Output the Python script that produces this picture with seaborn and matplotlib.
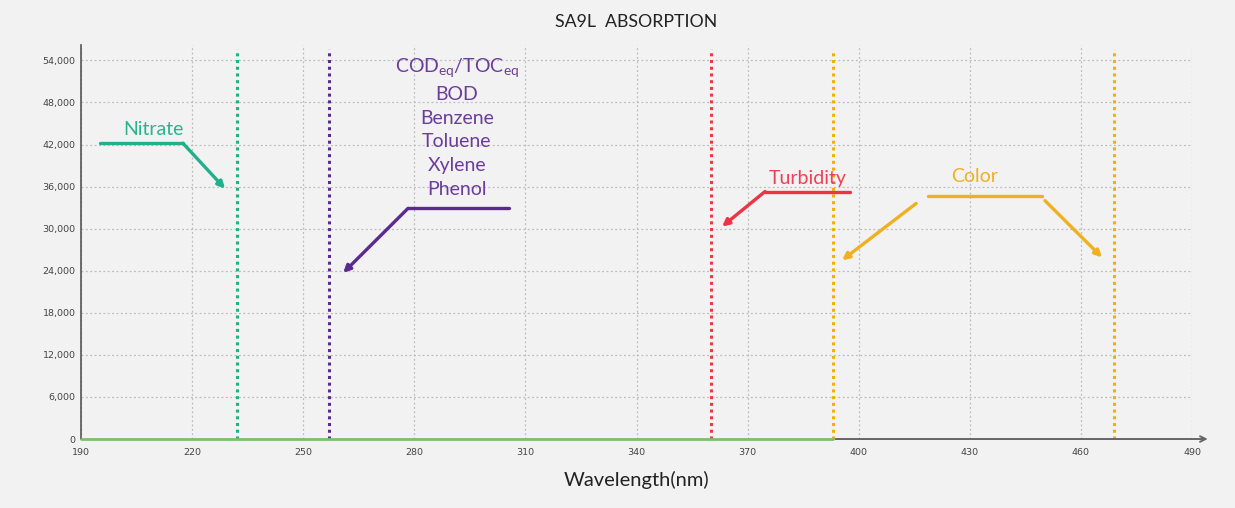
import numpy as np
import pandas as pd
import seaborn as sns
import matplotlib.pyplot as plt
from matplotlib.ticker import FuncFormatter

# wavelength markers (nm)
markers = [232, 257, 360, 393, 469]
marker_colors = ["#1fb383", "#5a2d8c", "#ea3a45", "#f4b000", "#f4b000"]
xticks = [190, 220, 250, 280, 310, 340, 370, 400, 430, 460, 490]
yticks = [0, 6000, 12000, 18000, 24000, 30000, 36000, 42000, 48000, 54000]
baseline = pd.DataFrame({"wl": [190, 393], "abs": [0, 0]})

purple_label = "COD$_{eq}$/TOC$_{eq}$\nBOD\nBenzene\nToluene\nXylene\nPhenol"

sns.set_style("whitegrid")
plt.rcParams['font.family'] = ['Lato', 'DejaVu Sans']
plt.rcParams['mathtext.fontset'] = 'custom'
plt.rcParams['mathtext.rm'] = 'Lato'
plt.rcParams['mathtext.it'] = 'Lato'

fig = plt.figure(figsize=(12.35, 5.08), dpi=100, facecolor="#f2f2f2")
ax = fig.add_axes([0.0656, 0.1358, 0.8996, 0.7756])
ax.set_facecolor("#f2f2f2")

sns.lineplot(data=baseline, x="wl", y="abs", color="#7cbf6e", lw=2, ax=ax, zorder=4, clip_on=False)

for xv, c in zip(markers, marker_colors):
    ax.axvline(xv, ymin=0, ymax=0.99, color=c, ls=(0, (1, 1.2)), lw=2.2, zorder=3)

ax.set_xlim(190, 490)
ax.set_ylim(0, 56200)
ax.set_xticks(xticks)
ax.set_yticks(yticks)
ax.yaxis.set_major_formatter(FuncFormatter(lambda v, p: f"{int(v):,}"))
ax.tick_params(length=0, labelsize=6.8, labelcolor="#444444")
ax.tick_params(axis="x", pad=6.5)
ax.tick_params(axis="y", pad=4)
for lab in ax.get_xticklabels() + ax.get_yticklabels():
    lab.set_family("DejaVu Sans")
ax.grid(True, color="#bcbcbc", ls=(0, (1.5, 2)), lw=0.9)

for s in ["top", "right"]:
    ax.spines[s].set_visible(False)
ax.spines["left"].set_color("#555555")
ax.spines["left"].set_linewidth(1.2)
ax.spines["left"].set_bounds(0, 56200)
ax.spines["bottom"].set_visible(False)
# gray x axis with arrow
ax.annotate("", xy=(495, 0), xytext=(393, 0), xycoords="data",
            arrowprops=dict(arrowstyle="->", color="#666666", lw=1.4), annotation_clip=False)

ax.set_title("SA9L  ABSORPTION", fontsize=12.8, color="#222222", pad=13)
ax.set_xlabel("Wavelength(nm)", fontsize=14.5, color="#222222", labelpad=10)
ax.set_ylabel("")

def elbow(pts, color):
    xs = [p[0] for p in pts]
    ys = [p[1] for p in pts]
    ax.plot(xs[:-1], ys[:-1], color=color, lw=2.4, solid_capstyle="round", zorder=5)
    ax.annotate("", xy=pts[-1], xytext=pts[-2],
                arrowprops=dict(arrowstyle="-|>,head_length=0.4,head_width=0.2",
                                color=color, lw=2.4, shrinkA=0, shrinkB=0), zorder=5)

# Nitrate
elbow([(195.1, 42200), (217.5, 42200), (228.9, 35700)], "#22b08a")
ax.text(209.5, 44200, "Nitrate", color="#2ab38c", fontsize=14, ha="center", va="center")

# organics
elbow([(305.6, 32900), (278.3, 32900), (260.8, 23700)], "#5b2a8e")
ax.text(291.5, 44500, purple_label, color="#6b3c9c", fontsize=14, ha="center", va="center",
        linespacing=1.48)

# Turbidity
elbow([(397.7, 35300), (374.7, 35300), (363.1, 30300)], "#ee3344")
ax.text(386.3, 37100, "Turbidity", color="#ee4056", fontsize=14, ha="center", va="center")

# Color
ax.plot([418.7, 449.5], [34600, 34600], color="#f0b020", lw=2.4, zorder=5)
ax.annotate("", xy=(395.5, 25500), xytext=(415.5, 33600),
            arrowprops=dict(arrowstyle="-|>,head_length=0.4,head_width=0.2",
                            color="#f0b020", lw=2.4, shrinkA=0, shrinkB=0), zorder=5)
ax.annotate("", xy=(465.7, 25900), xytext=(450.3, 34000),
            arrowprops=dict(arrowstyle="-|>,head_length=0.4,head_width=0.2",
                            color="#f0b020", lw=2.4, shrinkA=0, shrinkB=0), zorder=5)
ax.text(431.4, 37400, "Color", color="#f0b020", fontsize=14, ha="center", va="center")

fig.savefig("out.png", dpi=100, facecolor=fig.get_facecolor())
